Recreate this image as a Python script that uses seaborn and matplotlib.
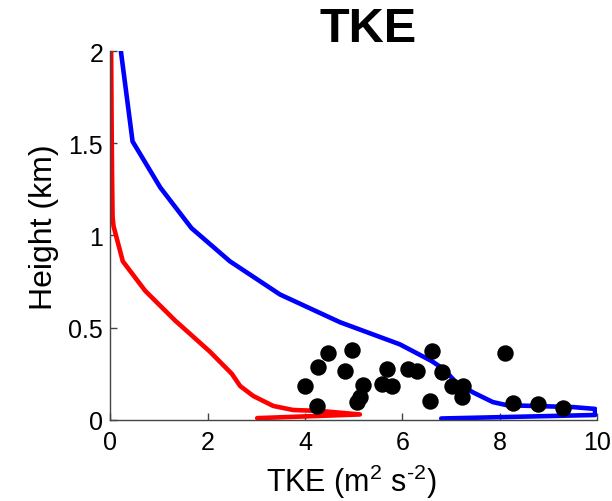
import matplotlib
matplotlib.use("Agg")
import matplotlib.pyplot as plt
import seaborn as sns
import pandas as pd

sns.set_theme(style="white")
plt.rcParams['font.family'] = ['Liberation Sans', 'DejaVu Sans']
plt.rcParams['mathtext.fontset'] = 'custom'
plt.rcParams['mathtext.rm'] = 'Liberation Sans'
plt.rcParams['mathtext.it'] = 'Liberation Sans:italic'
plt.rcParams['mathtext.bf'] = 'Liberation Sans:bold'
plt.rcParams['text.color'] = 'black'
plt.rcParams['axes.labelcolor'] = 'black'

# Red profile
red_height = [2.0, 1.6, 1.3, 1.1, 1.05, 0.86, 0.70, 0.54, 0.37, 0.314, 0.25, 0.184, 0.13, 0.076, 0.054, 0.049, 0.03, 0.01]
red_tke = [0.02, 0.03, 0.04, 0.05, 0.07, 0.26, 0.72, 1.33, 2.05, 2.26, 2.5, 2.67, 2.94, 3.35, 3.76, 4.31, 5.13, 3.02]

# Blue profile
blue_height = [2.0, 1.51, 1.26, 1.04, 0.86, 0.68, 0.53, 0.41, 0.32, 0.276, 0.205, 0.15, 0.097, 0.08, 0.07, 0.06, 0.027, 0.008]
blue_tke = [0.22, 0.46, 1.03, 1.67, 2.46, 3.49, 4.72, 5.95, 6.6, 6.85, 7.1, 7.45, 7.86, 8.15, 9.5, 9.96, 9.96, 6.8]

# Observations
obs_tke = [4.0, 4.27, 4.48, 4.97, 4.83, 4.25, 5.2, 5.13, 5.07, 5.58, 5.79, 5.68,
           6.12, 6.3, 6.61, 6.82, 6.57, 7.02, 7.24, 7.22, 8.11, 8.27, 8.79, 9.3]
obs_height = [0.184, 0.287, 0.363, 0.379, 0.266, 0.076, 0.19, 0.125, 0.097, 0.195, 0.184, 0.276,
              0.276, 0.266, 0.374, 0.26, 0.103, 0.184, 0.184, 0.125, 0.363, 0.092, 0.087, 0.065]

x_ticks = [0, 2, 4, 6, 8, 10]
y_ticks = [0, 0.5, 1, 1.5, 2]
y_tick_labels = ["0", "0.5", "1", "1.5", "2"]

fig = plt.figure(figsize=(6.12, 5.02), dpi=100)
ax = fig.add_axes([0.18, 0.1614, 0.7955, 0.735])

red_df = pd.DataFrame({"tke": red_tke, "h": red_height})
blue_df = pd.DataFrame({"tke": blue_tke, "h": blue_height})
obs_df = pd.DataFrame({"tke": obs_tke, "h": obs_height})

sns.lineplot(data=red_df, x="tke", y="h", sort=False, estimator=None, color="#ff0000", lw=3.3, ax=ax)
sns.lineplot(data=blue_df, x="tke", y="h", sort=False, estimator=None, color="#0000ff", lw=3.3, ax=ax)
sns.scatterplot(data=obs_df, x="tke", y="h", color="black", s=140, edgecolor="black", linewidth=0, ax=ax, zorder=3)

ax.set_xlim(0, 10)
ax.set_ylim(0, 2)
ax.set_xticks(x_ticks)
ax.set_xticklabels([str(t) for t in x_ticks])
ax.set_yticks(y_ticks)
ax.set_yticklabels(y_tick_labels)
ax.tick_params(axis='both', direction='in', length=5, width=1, color='#444444',
               labelsize=18, labelcolor='black')
ax.tick_params(axis='x', pad=7)
ax.tick_params(axis='y', pad=5)
ax.tick_params(axis='both', which='both', bottom=True, left=True)

for s in ['top', 'right']:
    ax.spines[s].set_visible(False)
for s in ['left', 'bottom']:
    ax.spines[s].set_color('#444444')
    ax.spines[s].set_linewidth(1)

ax.set_xlabel("TKE (m$^{2}$ s$^{\u20102}$)", fontsize=22)
ax.set_ylabel("Height (km)", fontsize=23)
ax.xaxis.set_label_coords(0.496, -0.113)
ax.yaxis.set_label_coords(-0.105, 0.526)
ax.set_title("TKE", fontsize=35, fontweight='bold', pad=3, x=0.53, color='black')

fig.savefig("out.png", dpi=100)
